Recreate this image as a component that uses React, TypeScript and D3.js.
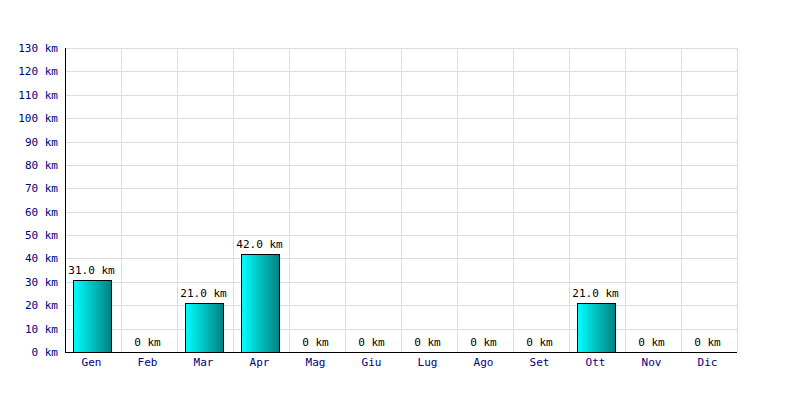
import React from "react";
import * as d3 from "d3";

const months = ["Gen", "Feb", "Mar", "Apr", "Mag", "Giu", "Lug", "Ago", "Set", "Ott", "Nov", "Dic"];
const values = [31, 0, 21, 42, 0, 0, 0, 0, 0, 21, 0, 0];
const yTicks = [0, 10, 20, 30, 40, 50, 60, 70, 80, 90, 100, 110, 120, 130];

const W = 800, H = 400;
const left = 65, right = 737, top = 48, bottom = 352;
const font = "'DejaVu Sans Mono', monospace";

export default function App() {
  const x = d3.scaleBand<string>().domain(months).range([left, right]).paddingInner(0.32).paddingOuter(0.16);
  const grid = d3.scaleBand<string>().domain(months).range([left, right]);
  const y = d3.scaleLinear().domain([0, 130]).range([bottom, top]);
  const fmt = (v: number) => (v === 0 ? "0 km" : `${v.toFixed(1)} km`);
  const cx = (m: string) => grid(m)! + grid.bandwidth() / 2 - 1.5;
  return (
    <svg width={W} height={H} style={{ position: "absolute", left: 0, top: 0 }}>
      <defs>
        <linearGradient id="bg" x1="0" x2="1" y1="0" y2="0">
          <stop offset="0" stopColor="#00ffff" />
          <stop offset="1" stopColor="#008080" />
        </linearGradient>
      </defs>
      <rect width={W} height={H} fill="#fff" />
      {yTicks.map((t) => (
        <line key={"h" + t} x1={left} x2={right} y1={Math.round(y(t)) + 0.5} y2={Math.round(y(t)) + 0.5} stroke="#dcdcdc" />
      ))}
      {months.map((m) => (
        <line key={"v" + m} x1={Math.round(grid(m)! + grid.bandwidth()) + 0.5} x2={Math.round(grid(m)! + grid.bandwidth()) + 0.5} y1={top} y2={bottom} stroke="#dcdcdc" />
      ))}
      {months.map((m, i) =>
        values[i] > 0 ? (
          <rect key={"b" + m} x={Math.floor(x(m)!) + 0.5} y={Math.round(y(values[i])) + 0.5} width={Math.round(x.bandwidth())} height={Math.round(bottom - y(values[i]))} fill="url(#bg)" stroke="#000" />
        ) : null
      )}
      {months.map((m, i) => (
        <text key={"l" + m} x={cx(m)} y={y(values[i]) - 6} textAnchor="middle" fontFamily={font} fontSize={11} fill="#000">
          {fmt(values[i])}
        </text>
      ))}
      <line x1={left + 0.5} x2={left + 0.5} y1={top} y2={bottom} stroke="#000" />
      <line x1={left} x2={right} y1={bottom + 0.5} y2={bottom + 0.5} stroke="#000" />
      {yTicks.map((t) => (
        <text key={"y" + t} x={58} y={y(t) + 4} textAnchor="end" fontFamily={font} fontSize={11} fill="#000080">
          {`${t} km`}
        </text>
      ))}
      {months.map((m) => (
        <text key={"x" + m} x={cx(m)} y={366} textAnchor="middle" fontFamily={font} fontSize={11} fill="#000080">
          {m}
        </text>
      ))}
    </svg>
  );
}
